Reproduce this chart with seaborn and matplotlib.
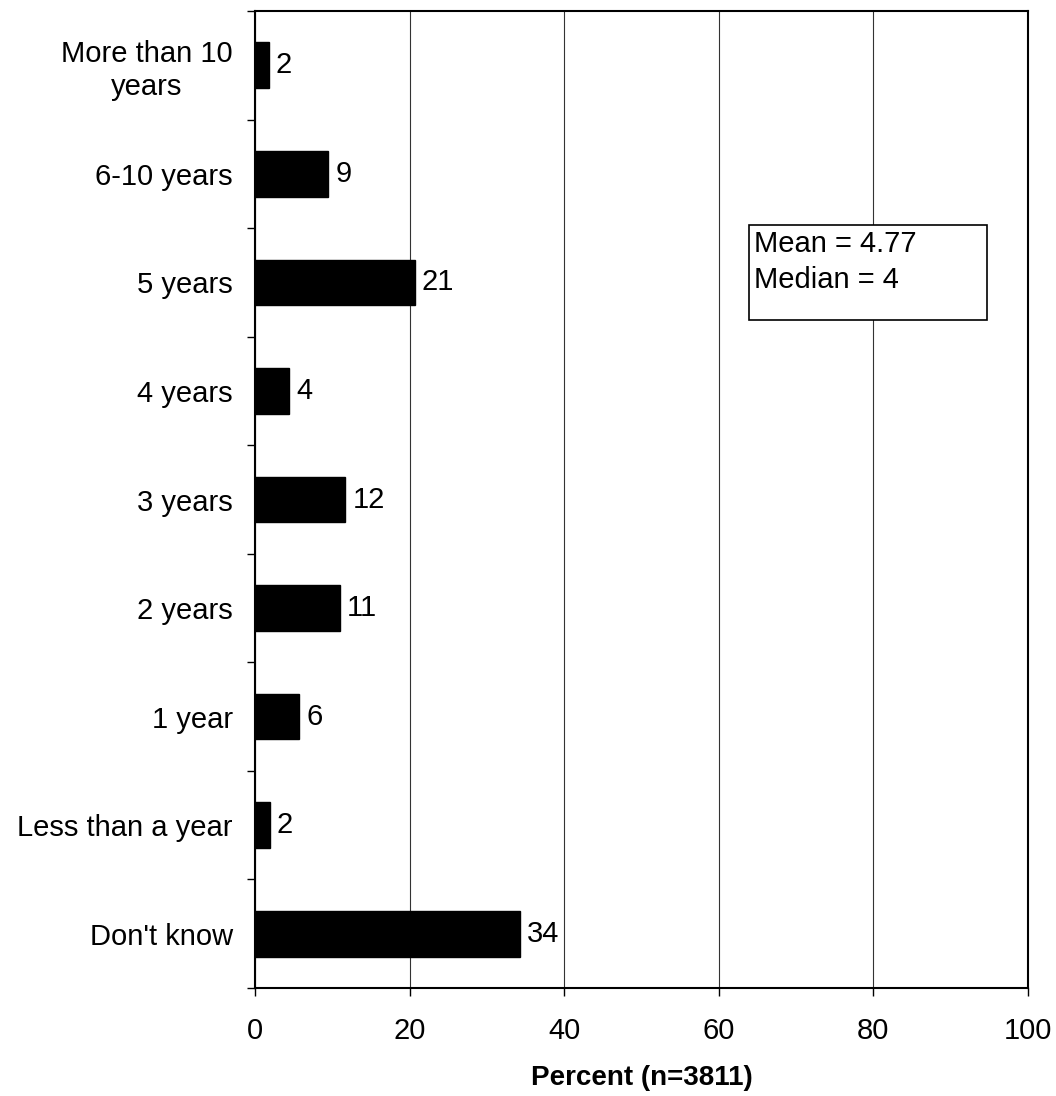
import matplotlib
matplotlib.use("Agg")
import matplotlib.pyplot as plt
import matplotlib.patches as mpatches
from matplotlib.ticker import MultipleLocator
import seaborn as sns
import pandas as pd

# data
categories = ["More than 10\nyears", "6-10 years", "5 years", "4 years", "3 years",
              "2 years", "1 year", "Less than a year", "Don't know"]
percent = [1.8, 9.5, 20.7, 4.4, 11.7, 11.0, 5.7, 1.9, 34.3]
bar_labels = ["2", "9", "21", "4", "12", "11", "6", "2", "34"]
x_ticks = [0, 20, 40, 60, 80, 100]
stats_text = "Mean = 4.77\nMedian = 4"

df = pd.DataFrame({"category": categories, "percent": percent})

sns.set_style("white")
plt.rcParams["font.family"] = ["Liberation Sans", "DejaVu Sans"]
plt.rcParams["text.color"] = "black"
plt.rcParams["xtick.color"] = "black"
plt.rcParams["ytick.color"] = "black"
plt.rcParams["axes.labelcolor"] = "black"

FS = 21

fig = plt.figure(figsize=(10.56, 10.96), dpi=100)
ax = fig.add_axes([0.2415, 0.0985, 0.732, 0.8915])

sns.barplot(data=df, x="percent", y="category", orient="h", color="black",
            width=0.42, saturation=1, ax=ax)
for p in ax.patches:
    p.set_edgecolor("black")

ax.bar_label(ax.containers[0], labels=bar_labels, padding=5, fontsize=FS)

ax.set_xlim(0, 100)
ax.set_ylim(8.5, -0.5)
ax.set_xticks(x_ticks)
ax.set_xticklabels([str(t) for t in x_ticks], fontsize=FS)
ax.tick_params(axis="x", bottom=True, length=6, width=1, direction="out", pad=15)
ax.tick_params(axis="y", which="major", left=True, length=0, pad=16, labelsize=FS)
ax.yaxis.set_minor_locator(MultipleLocator(1, offset=0.5))
ax.tick_params(axis="y", which="minor", left=True, length=6, width=1, direction="out")
for lab in ax.get_yticklabels():
    lab.set_multialignment("center")

ax.xaxis.grid(True, color="#333333", linewidth=0.8)
ax.yaxis.grid(False)
ax.set_axisbelow(True)
for s in ax.spines.values():
    s.set_color("black")
    s.set_linewidth(1.5)

ax.set_ylabel("")
ax.set_xlabel("Percent (n=3811)", fontsize=FS - 1, fontweight="bold", labelpad=14)

# stats box
rect = mpatches.Rectangle((0.6385, 0.684), 0.308, 0.097, transform=ax.transAxes,
                          facecolor="white", edgecolor="black", linewidth=1.2, zorder=5)
ax.add_patch(rect)
ax.text(0.646, 0.776, stats_text, transform=ax.transAxes, fontsize=FS,
        va="top", ha="left", linespacing=1.35, zorder=6)

plt.savefig("out.png", dpi=100)
